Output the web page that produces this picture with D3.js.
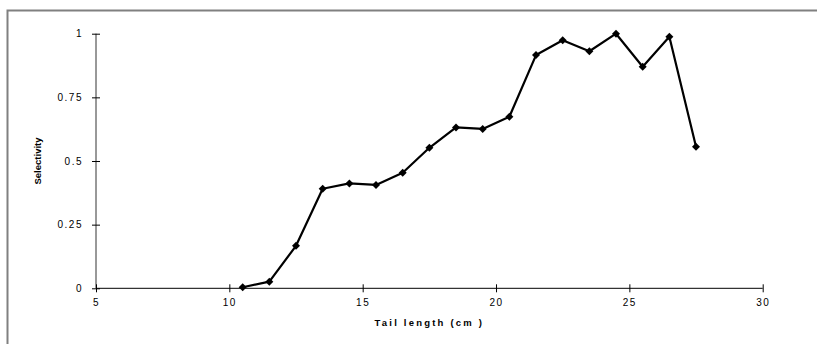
<!DOCTYPE html>
<html><head><meta charset="utf-8">
<script src="https://cdn.jsdelivr.net/npm/d3@7"></script>
<style>body{margin:0;background:#fff}svg{display:block}</style>
</head><body>
<svg id="c" width="817" height="344"></svg>
<script>
const tailLength = [10.5,11.5,12.5,13.5,14.5,15.5,16.5,17.5,18.5,19.5,20.5,21.5,22.5,23.5,24.5,25.5,26.5,27.5];
const selectivity = [0.004,0.026,0.167,0.391,0.412,0.406,0.454,0.552,0.632,0.626,0.674,0.916,0.974,0.931,1.0,0.870,0.988,0.556];
const xTicks = [5,10,15,20,25,30];
const yTicks = [0,0.25,0.5,0.75,1];
const yTickLabels = ["0","0.25","0.5","0.75","1"];
const xTitle = "Tail length (cm )";
const yTitle = "Selectivity";

const svg = d3.select("#c");
// outer frame
svg.append("path").attr("d","M7.5,400 V10.5 H830").attr("fill","none").attr("stroke","#808080").attr("stroke-width",2);

const x = d3.scaleLinear().domain([5,30]).range([96,762.7]);
const y = d3.scaleLinear().domain([0,1]).range([288.3,33.7]);

const font = "Arial, 'Liberation Sans', sans-serif";

// y axis
const ya = svg.append("g").attr("transform",`translate(${x(5)},0)`)
  .call(d3.axisLeft(y).tickValues(yTicks).tickSize(4).tickFormat((d,i)=>yTickLabels[i]));
ya.select(".domain").attr("stroke","#333").attr("d",`M0,${y(1)}V${y(0)}`);
ya.selectAll(".tick line").attr("x1",4).attr("x2",-4).attr("stroke","#000");
ya.selectAll(".tick text").attr("x",-13).attr("font-family",font).attr("font-size",10)
  .attr("letter-spacing","1.5px").attr("fill","#000");

// x axis
const xa = svg.append("g").attr("transform",`translate(0,${y(0)})`)
  .call(d3.axisBottom(x).tickValues(xTicks).tickSize(4).tickFormat(d3.format("d")));
xa.select(".domain").attr("stroke","#000").attr("d",`M${x(5)},0H${x(30)}`);
xa.selectAll(".tick line").attr("y1",-4).attr("y2",4).attr("stroke","#000");
xa.selectAll(".tick text").attr("y",11).attr("font-family",font).attr("font-size",10)
  .attr("letter-spacing","1.5px").attr("fill","#000");

// line
const pts = tailLength.map((t,i)=>[t,selectivity[i]]);
svg.append("path").datum(pts)
  .attr("fill","none").attr("stroke","#000").attr("stroke-width",2.2).attr("stroke-linejoin","round")
  .attr("d",d3.line().x(d=>x(d[0])).y(d=>y(d[1])));

svg.append("g").selectAll("path").data(pts).join("path")
  .attr("transform",d=>`translate(${x(d[0])},${y(d[1])})`)
  .attr("d","M0,-4L4,0L0,4L-4,0Z").attr("fill","#000");

// titles
svg.append("text").attr("x",(x(5)+x(30))/2).attr("y",326).attr("text-anchor","middle")
  .attr("font-family",font).attr("font-size",9.5).attr("font-weight","bold").attr("letter-spacing","2.2px")
  .text(xTitle);
svg.append("text").attr("transform",`translate(41,${(y(0)+y(1))/2}) rotate(-90)`).attr("text-anchor","middle")
  .attr("font-family",font).attr("font-size",9.5).attr("font-weight","bold")
  .text(yTitle);
</script>
</body></html>
